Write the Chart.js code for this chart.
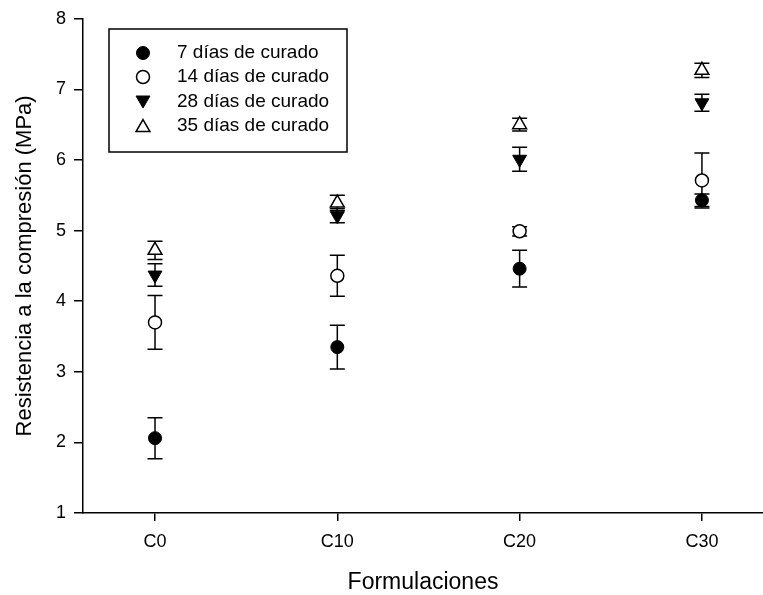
<!DOCTYPE html>
<html>
<head>
<meta charset="utf-8">
<script src="https://cdn.jsdelivr.net/npm/chart.js@4.4.1/dist/chart.umd.min.js"></script>
<style>
html,body{margin:0;padding:0;background:#fff;}
#wrap{width:763px;height:595px;position:relative;}
</style>
</head>
<body>
<div id="wrap"><canvas id="c" width="763" height="595"></canvas></div>
<script>
// ---- data ----
const categories = ['C0', 'C10', 'C20', 'C30'];
const seriesNames = ['7 días de curado', '14 días de curado', '28 días de curado', '35 días de curado'];
const d7  = [2.06, 3.35, 4.46, 5.43];
const e7  = [0.29, 0.31, 0.26, 0.09];
const d14 = [3.70, 4.36, 4.99, 5.71];
const e14 = [0.38, 0.29, 0.065, 0.39];
const d28 = [4.37, 5.21, 6.01, 6.81];
const e28 = [0.16, 0.10, 0.17, 0.12];
const d35 = [4.72, 5.39, 6.50, 7.27];
const e35 = [0.13, 0.11, 0.09, 0.10];
const yTickValues = [1, 2, 3, 4, 5, 6, 7, 8];
const xTitle = 'Formulaciones';
const yTitle = 'Resistencia a la compresión (MPa)';

const FONT = "'Liberation Sans', Arial, sans-serif";

function pts(vals) { return vals.map((v, i) => ({ x: i, y: v })); }

const styles = [
  { pointStyle: 'circle', radius: 6.5, rotation: 0, bg: '#000', bw: 1 },
  { pointStyle: 'circle', radius: 6.5, rotation: 0, bg: '#fff', bw: 1.5 },
  { pointStyle: 'triangle', radius: 8, rotation: 180, bg: '#000', bw: 1 },
  { pointStyle: 'triangle', radius: 8, rotation: 0, bg: '#fff', bw: 1.5 }
];
const values = [d7, d14, d28, d35];
const errors = [e7, e14, e28, e35];

const datasets = values.map((vals, k) => ({
  label: seriesNames[k],
  data: pts(vals),
  errors: errors[k],
  showLine: false,
  pointStyle: styles[k].pointStyle,
  pointRadius: styles[k].radius,
  pointHoverRadius: styles[k].radius,
  pointRotation: styles[k].rotation,
  backgroundColor: styles[k].bg,
  borderColor: '#000',
  pointBorderWidth: styles[k].bw,
  borderWidth: styles[k].bw
}));

const errorBarPlugin = {
  id: 'errorBars',
  beforeDatasetsDraw(chart) {
    const ctx = chart.ctx;
    const xs = chart.scales.x, ys = chart.scales.y;
    ctx.save();
    ctx.strokeStyle = '#000';
    ctx.lineWidth = 1.5;
    chart.data.datasets.forEach(ds => {
      ds.data.forEach((p, i) => {
        const e = ds.errors[i];
        const x = xs.getPixelForValue(p.x);
        const yt = ys.getPixelForValue(p.y + e);
        const yb = ys.getPixelForValue(p.y - e);
        const hw = 7.5;
        ctx.beginPath();
        ctx.moveTo(x, yt); ctx.lineTo(x, yb);
        ctx.moveTo(x - hw, yt); ctx.lineTo(x + hw, yt);
        ctx.moveTo(x - hw, yb); ctx.lineTo(x + hw, yb);
        ctx.stroke();
      });
    });
    ctx.restore();
  }
};

const legendBoxPlugin = {
  id: 'legendBox',
  afterDraw(chart) {
    const ctx = chart.ctx;
    const box = { left: 109, top: 29, right: 347, bottom: 152 };
    const rowsY = [53, 77, 101.5, 126];
    const markerX = 143, textX = 177;
    ctx.save();
    ctx.strokeStyle = '#000';
    ctx.lineWidth = 1.5;
    ctx.strokeRect(box.left, box.top, box.right - box.left, box.bottom - box.top);
    ctx.font = '19px ' + FONT;
    ctx.textBaseline = 'middle';
    ctx.textAlign = 'left';
    chart.data.datasets.forEach((ds, k) => {
      const st = styles[k];
      const y = rowsY[k] + (st.pointStyle === 'triangle' ? (st.rotation ? -1.5 : 1.5) : 0);
      ctx.fillStyle = st.bg;
      ctx.strokeStyle = '#000';
      ctx.lineWidth = st.bw;
      Chart.helpers.drawPoint(ctx, { pointStyle: st.pointStyle, rotation: st.rotation, radius: st.radius, borderWidth: st.bw }, markerX, y);
      ctx.fillStyle = '#000';
      ctx.fillText(ds.label, textX, rowsY[k]);
    });
    ctx.restore();
  }
};

new Chart(document.getElementById('c'), {
  type: 'scatter',
  data: { datasets },
  plugins: [errorBarPlugin, legendBoxPlugin],
  options: {
    responsive: false,
    animation: false,
    devicePixelRatio: 1,
    layout: { autoPadding: false, padding: { top: 14, right: 0, bottom: 0, left: 0 } },
    plugins: { legend: { display: false }, tooltip: { enabled: false } },
    scales: {
      x: {
        type: 'linear',
        min: -0.395,
        max: 3.335,
        afterBuildTicks(scale) { scale.ticks = categories.map((c, i) => ({ value: i })); },
        afterFit(scale) { scale.height = 82; scale.paddingLeft = 0; scale.paddingRight = 0; },
        ticks: {
          callback: (v) => categories[v],
          color: '#000',
          font: { family: FONT, size: 18 },
          padding: 10,
          maxRotation: 0,
          autoSkip: false
        },
        grid: { drawOnChartArea: false, drawTicks: true, tickLength: 8, color: '#000', lineWidth: 1.5 },
        border: { display: true, color: '#000', width: 1.5 },
        title: {
          display: true,
          text: xTitle,
          color: '#000',
          font: { family: FONT, size: 23, lineHeight: 1.05 },
          padding: { top: 0, bottom: 0 }
        }
      },
      y: {
        type: 'linear',
        min: 1,
        max: 8,
        afterBuildTicks(scale) { scale.ticks = yTickValues.map(v => ({ value: v })); },
        afterFit(scale) { scale.width = 83; },
        ticks: {
          color: '#000',
          font: { family: FONT, size: 18 },
          padding: 8
        },
        grid: { drawOnChartArea: false, drawTicks: true, tickLength: 9, color: '#000', lineWidth: 1.5 },
        border: { display: true, color: '#000', width: 1.5 },
        title: {
          display: true,
          text: yTitle,
          color: '#000',
          font: { family: FONT, size: 22 },
          padding: { top: 12, bottom: 0 }
        }
      }
    }
  }
});
</script>
</body>
</html>
